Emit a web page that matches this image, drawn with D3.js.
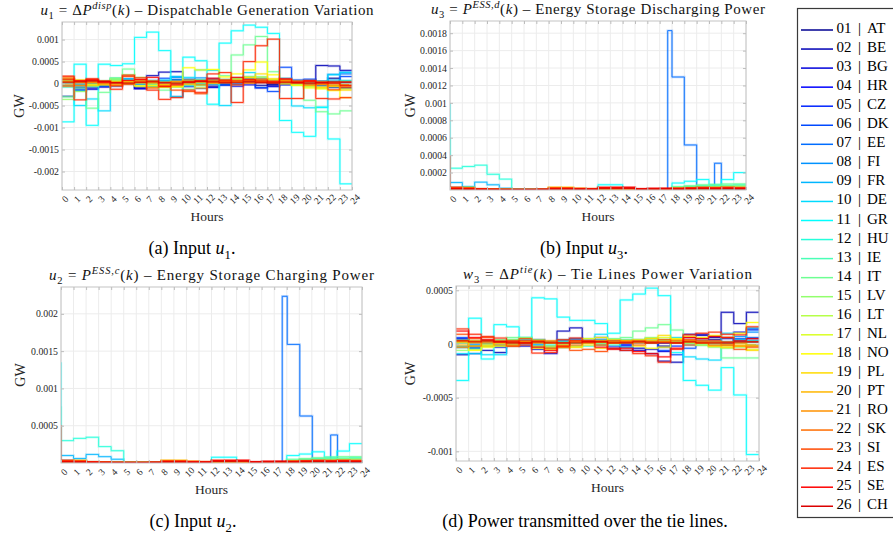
<!DOCTYPE html>
<html>
<head>
<meta charset="utf-8">
<script src="https://cdn.jsdelivr.net/npm/d3@7"></script>
<style>
  body { margin: 0; background: #fff; }
  svg { display: block; }
  text { font-family: "Liberation Serif", "Times New Roman", serif; white-space: pre; }
</style>
</head>
<body>
<svg id="fig" width="893" height="539"></svg>
<script>
// values below are in units of 1e-4 GW
const unit = 1e-4;

const countries = ["AT","BE","BG","HR","CZ","DK","EE","FI","FR","DE","GR","HU","IE","IT","LV","LT","NL","NO","PL","PT","RO","SK","SI","ES","SE","CH"];
const hourTicks = [0,1,2,3,4,5,6,7,8,9,10,11,12,13,14,15,16,17,18,19,20,21,22,23,24];

// (a) u1 = dispatchable generation variation, hours 0..23
const u1 = [
  [0.5,0.3,-0.4,-0.6,0.2,0.4,-0.8,-0.5,0.6,0.9,0.4,-0.3,-0.6,-0.2,0.3,0.5,-0.4,-0.2,0.7,0.6,0.3,0.5,1.2,-1.0],
  [-2.9,-1.5,-1.0,-0.5,0.4,0.6,-1.2,1.8,2.6,2.7,0.8,0.5,0.3,0.6,0.9,1.1,0.4,-0.5,0.8,0.2,0.6,4.1,4.0,3.0],
  [0.8,-0.9,-1.3,-0.8,-0.6,0.3,-1.1,-0.6,-0.4,-3.0,-0.7,-1.1,-0.9,-0.4,-0.6,-0.3,-1.0,-0.7,0.3,0.1,-0.2,-0.5,-0.9,-1.0],
  [0.3,0.2,0.1,0.4,0.2,-0.1,0.3,0.5,0.2,0.1,-0.3,0.2,0.4,0.1,-0.2,0.3,0.5,0.2,-0.3,-0.1,0.2,0.4,0.1,0.3],
  [-0.4,-0.6,-0.2,0.1,0.3,0.5,0.2,-0.3,0.4,0.6,0.3,0.1,-0.2,0.4,0.7,0.5,0.3,0.1,0.2,-0.3,-0.5,-0.2,0.3,0.6],
  [0.9,-1.2,0.6,0.3,0.9,1.0,0.4,0.6,1.2,1.4,0.9,0.7,1.1,0.8,0.6,0.9,-0.9,-1.8,3.7,0.8,1.0,0.4,-0.4,1.6],
  [0.2,-0.3,-0.1,0.2,0.5,0.3,-0.2,0.1,0.3,0.2,-0.1,0.4,0.2,-0.3,0.1,0.4,0.6,0.2,-0.2,0.3,0.1,-0.4,0.2,2.2],
  [0.6,-1.6,-0.7,-0.5,0.8,1.1,0.2,0.7,0.4,1.6,1.0,1.3,0.9,0.7,1.3,1.5,1.2,0.6,0.9,0.4,0.7,0.2,2.1,2.6],
  [-0.5,-0.2,0.3,-0.4,0.1,0.6,-0.3,0.2,0.5,0.8,0.4,0.9,0.6,0.3,0.5,0.8,0.7,0.4,0.1,-0.2,0.3,0.5,0.8,0.4],
  [1.0,-5.0,-3.5,-6.2,1.2,1.0,0.6,0.5,0.8,1.5,1.4,3.1,3.0,-5.0,1.2,2.5,1.5,0.5,1.2,-5.1,-5.5,-5.4,2.0,2.5],
  [-8.7,4.4,-9.5,4.4,4.1,4.5,10.5,11.7,7.5,-3.0,6.0,5.2,-4.7,9.2,12.0,13.3,12.8,11.4,-8.4,-11.1,-12.0,-5.4,-12.6,-22.8],
  [-0.8,-0.4,0.2,0.6,0.9,0.7,0.3,-0.2,0.4,0.2,-0.5,0.1,0.6,0.9,0.4,0.2,0.8,0.5,0.3,0.6,0.2,-0.1,0.4,0.7],
  [0.4,0.6,0.3,-0.2,0.1,0.5,0.8,0.4,-0.3,0.1,0.6,0.3,-0.1,0.2,0.5,0.7,0.4,0.9,0.6,0.2,-0.3,0.5,0.3,-0.2],
  [-3.0,-1.0,-5.6,-2.0,1.3,3.3,0.4,-0.6,-1.5,-0.8,-1.3,-0.5,0.7,1.8,6.5,8.8,10.7,2.7,0.3,-0.2,-3.8,-6.4,-6.9,-6.2],
  [-3.6,-1.8,-0.6,0.4,1.1,2.0,1.4,0.2,-0.9,-0.5,0.3,0.8,0.5,0.9,1.2,1.6,1.0,0.6,0.2,-0.4,-0.8,-1.1,-0.7,-0.3],
  [0.2,-0.5,-0.3,0.4,0.8,0.6,0.1,-0.4,-0.2,0.3,0.5,0.2,0.6,0.4,0.9,1.3,0.7,0.5,0.2,-0.3,-0.6,-0.2,0.1,-0.4],
  [0.9,0.4,-0.2,0.3,0.5,0.2,-0.6,-0.9,-0.4,-0.7,0.2,0.6,0.3,0.4,1.0,0.8,1.5,0.9,0.4,0.2,-0.5,-0.8,-0.6,-1.2],
  [1.2,0.8,0.3,-0.2,0.5,0.3,-0.5,-0.4,-0.8,-0.6,3.6,3.1,3.2,1.5,2.2,3.1,4.9,2.0,0.6,-0.4,-1.0,-1.2,-1.6,-3.2],
  [0.6,0.2,-0.4,0.1,-0.3,0.4,0.6,0.3,-0.5,-0.7,-0.2,-1.0,0.3,0.6,0.4,1.4,2.2,1.1,0.8,0.3,-0.4,-0.9,-0.5,-1.5],
  [-0.3,0.4,0.6,0.2,-0.1,0.3,0.5,0.1,-0.2,0.4,0.2,-0.3,0.1,0.5,0.3,0.7,0.4,0.2,-0.1,0.3,0.5,0.2,-0.3,-0.6],
  [0.5,0.7,0.2,-0.3,-0.5,0.1,0.4,0.6,0.3,0.5,0.8,0.4,0.2,0.6,0.4,0.2,0.5,0.3,0.6,0.4,0.1,-0.2,-0.5,-0.3],
  [-0.6,-0.4,0.4,0.6,0.2,-0.2,0.3,0.5,0.2,-0.1,0.3,0.6,0.4,0.2,-0.3,0.1,0.3,0.6,0.4,0.1,-0.3,-0.1,0.2,0.4],
  [1.5,0.6,0.9,0.2,-0.4,1.6,0.9,-1.0,-0.7,-1.5,-1.8,-2.3,0.8,0.5,0.7,0.6,1.0,0.3,0.9,0.6,0.7,0.4,-1.4,-0.8],
  [1.7,-3.7,1.1,0.3,-1.3,1.9,1.3,-1.5,-3.6,-3.2,-1.5,-2.0,2.2,2.5,-4.3,5.0,8.6,10.1,-3.4,-3.4,0.5,-3.4,-3.5,-3.2],
  [1.0,0.6,0.8,0.4,0.2,0.7,0.9,1.4,-0.6,-0.3,0.4,0.6,1.2,0.8,1.4,0.9,0.6,0.4,1.1,0.3,0.6,0.2,0.1,-0.4],
  [0.3,0.4,0.6,0.5,0.2,0.1,0.3,0.4,0.2,0.1,0.3,0.5,0.4,0.2,0.3,0.4,0.2,0.1,0.3,0.2,0.1,0.2,0.4,0.3]
];

// (b) u3 = storage discharging power; EE given as [hour, value] breakpoints
const u3 = [
  [.3,.25,.05,.04,.03,.03,.03,.03,.05,.05,.03,.03,.04,.04,.03,.03,.03,.03,.1,.1,.15,.1,.1,.1],
  [.2,.12,.06,.04,.02,.02,.02,.02,.03,.03,.02,.02,.03,.03,.02,.02,.02,.02,.06,.1,.12,.1,.15,.12],
  [.12,.1,.05,.03,.02,.02,.02,.02,.02,.02,.02,.02,.02,.02,.02,.02,.02,.02,.03,.04,.05,.05,.06,.05],
  [.06,.05,.05,.03,.02,.02,.02,.02,.02,.02,.02,.02,.02,.02,.02,.02,.02,.02,.02,.03,.03,.05,.05,.05],
  [.08,.06,.04,.03,.02,.02,.02,.02,.03,.03,.02,.02,.03,.03,.02,.02,.02,.02,.04,.05,.06,.06,.05,.06],
  [.15,.1,.08,.05,.03,.02,.02,.02,.03,.03,.02,.02,.03,.03,.02,.02,.02,.02,.08,.1,.1,.08,.1,.1],
  [[0,.03],[17.65,18.3],[18,12.97],[19,5.17],[20,.06],[21.45,3.07],[22,.06]],
  [.15,.12,.1,.06,.03,.02,.02,.02,.03,.03,.02,.02,.04,.04,.02,.02,.02,.02,.1,.12,.15,.12,.15,.15],
  [.86,.4,.9,.6,.2,.03,.02,.02,.03,.03,.02,.02,.04,.04,.03,.02,.02,.02,.08,.1,.1,.08,.1,.1],
  [.1,.06,.05,.05,.04,.03,.03,.03,.04,.04,.03,.03,.2,.2,.05,.03,.03,.03,.15,.2,.3,.25,.3,.3],
  [.1,.08,.06,.05,.04,.03,.03,.03,.04,.04,.03,.03,.6,.6,.08,.03,.03,.03,.8,1.0,1.2,.6,1.2,2.0],
  [2.5,2.7,2.85,1.8,1.25,.04,.03,.03,.05,.05,.03,.03,.1,.1,.05,.03,.03,.03,.3,.4,.5,.5,.55,.6],
  [.2,.15,.12,.08,.05,.03,.03,.03,.05,.05,.03,.03,.08,.08,.04,.03,.03,.03,.25,.35,.45,.45,.5,.5],
  [.15,.1,.1,.06,.04,.03,.03,.03,.05,.05,.03,.03,.06,.06,.04,.03,.03,.03,.4,.5,.6,.65,.7,.7],
  [.1,.08,.06,.05,.03,.02,.02,.02,.05,.05,.03,.03,.05,.05,.03,.02,.02,.02,.2,.3,.35,.4,.45,.45],
  [.1,.08,.06,.04,.03,.02,.02,.02,.1,.1,.05,.04,.05,.05,.03,.02,.02,.03,.15,.2,.25,.25,.3,.3],
  [.15,.2,.08,.05,.03,.02,.02,.02,.2,.2,.08,.06,.06,.06,.04,.03,.03,.04,.12,.15,.2,.2,.2,.25],
  [.2,.3,.1,.05,.03,.02,.02,.02,.3,.3,.15,.1,.1,.1,.05,.03,.03,.05,.1,.12,.15,.15,.2,.2],
  [.2,.25,.1,.05,.03,.02,.02,.03,.25,.25,.15,.1,.1,.1,.06,.04,.04,.05,.12,.15,.2,.2,.2,.2],
  [.25,.2,.1,.05,.03,.02,.02,.03,.2,.2,.12,.1,.12,.12,.08,.05,.05,.06,.15,.18,.2,.2,.25,.2],
  [.2,.18,.1,.05,.04,.03,.03,.04,.25,.22,.15,.12,.15,.15,.1,.06,.06,.08,.15,.2,.22,.2,.25,.22],
  [.25,.2,.12,.06,.04,.03,.03,.05,.2,.2,.15,.12,.2,.2,.15,.08,.08,.1,.2,.22,.25,.25,.28,.25],
  [.3,.22,.12,.08,.05,.04,.04,.05,.25,.25,.18,.15,.25,.25,.2,.1,.1,.12,.2,.25,.3,.28,.3,.28],
  [.2,.15,.1,.06,.05,.04,.04,.05,.15,.15,.12,.1,.3,.3,.25,.1,.12,.15,.15,.2,.25,.22,.25,.2],
  [.15,.12,.1,.08,.05,.05,.05,.08,.12,.12,.1,.1,.28,.3,.32,.15,.2,.2,.12,.18,.2,.18,.2,.18],
  [.1,.08,.06,.05,.04,.04,.04,.06,.1,.1,.08,.08,.15,.15,.2,.1,.12,.15,.1,.12,.15,.12,.15,.12]
];
// initial values at hour 0: [country number, value]
const u3Start = [[11, 10.0], [12, 6.0], [24, 4.0]];

// (c) u2 = storage charging power
const u2 = [
  [.35,.3,.06,.05,.04,.04,.04,.04,.06,.06,.04,.04,.05,.05,.04,.04,.04,.04,.12,.12,.18,.12,.12,.12],
  [.25,.15,.07,.05,.03,.03,.03,.03,.04,.04,.03,.03,.04,.04,.03,.03,.03,.03,.07,.12,.15,.12,.18,.15],
  [.15,.12,.06,.04,.03,.03,.03,.03,.03,.03,.03,.03,.03,.03,.03,.03,.03,.03,.04,.05,.06,.06,.07,.06],
  [.07,.06,.06,.04,.03,.03,.03,.03,.03,.03,.03,.03,.03,.03,.03,.03,.03,.03,.03,.04,.04,.06,.06,.06],
  [.1,.07,.05,.04,.03,.03,.03,.03,.04,.04,.03,.03,.04,.04,.03,.03,.03,.03,.05,.06,.07,.07,.06,.07],
  [.18,.12,.1,.06,.04,.03,.03,.03,.04,.04,.03,.03,.04,.04,.03,.03,.03,.03,.1,.12,.12,.1,.12,.12],
  [[0,.04],[17.64,22.35],[18.04,15.9],[19.04,6.3],[20.04,.07],[21.5,3.76],[22.05,.07]],
  [.18,.15,.12,.07,.04,.03,.03,.03,.04,.04,.03,.03,.05,.05,.03,.03,.03,.03,.12,.15,.18,.15,.18,.18],
  [1.0,.6,1.15,.85,.5,.04,.03,.03,.04,.04,.03,.03,.05,.05,.04,.03,.03,.03,.1,.12,.12,.1,.12,.12],
  [.12,.07,.06,.06,.05,.04,.04,.04,.05,.05,.04,.04,.25,.25,.06,.04,.04,.04,.18,.25,.35,.3,.35,.35],
  [.12,.1,.07,.06,.05,.04,.04,.04,.05,.05,.04,.04,.77,.77,.1,.04,.04,.04,1.0,1.2,1.5,.77,1.6,2.6],
  [3.0,3.3,3.45,2.2,1.65,.05,.04,.04,.06,.06,.04,.04,.12,.12,.06,.04,.04,.04,.35,.5,.6,.6,.65,.7],
  [.25,.18,.15,.1,.06,.04,.04,.04,.06,.06,.04,.04,.1,.1,.05,.04,.04,.04,.3,.4,.55,.55,.6,.6],
  [.18,.12,.12,.07,.05,.04,.04,.04,.06,.06,.04,.04,.07,.07,.05,.04,.04,.04,.5,.6,.7,.8,.85,.85],
  [.12,.1,.07,.06,.04,.03,.03,.03,.06,.06,.04,.04,.06,.06,.04,.03,.03,.03,.25,.35,.4,.5,.55,.55],
  [.12,.1,.07,.05,.04,.03,.03,.03,.12,.12,.06,.05,.06,.06,.04,.03,.03,.04,.18,.25,.3,.3,.35,.35],
  [.18,.25,.1,.06,.04,.03,.03,.03,.25,.25,.1,.07,.07,.07,.05,.04,.04,.05,.15,.18,.25,.25,.25,.3],
  [.25,.35,.12,.06,.04,.03,.03,.03,.35,.35,.18,.12,.12,.12,.06,.04,.04,.06,.12,.15,.18,.18,.25,.25],
  [.25,.3,.12,.06,.04,.03,.03,.04,.3,.3,.18,.12,.12,.12,.07,.05,.05,.06,.15,.18,.25,.25,.25,.25],
  [.3,.25,.12,.06,.04,.03,.03,.04,.25,.25,.15,.12,.15,.15,.1,.06,.06,.07,.18,.22,.25,.25,.3,.25],
  [.25,.22,.12,.06,.05,.04,.04,.05,.3,.27,.18,.15,.18,.18,.12,.07,.07,.1,.18,.25,.27,.25,.3,.27],
  [.3,.25,.15,.07,.05,.04,.04,.06,.25,.25,.18,.15,.25,.25,.18,.1,.1,.12,.25,.27,.3,.3,.33,.3],
  [.35,.27,.15,.1,.06,.05,.05,.06,.3,.3,.22,.18,.3,.3,.25,.12,.12,.15,.25,.3,.35,.33,.35,.33],
  [.25,.18,.12,.07,.06,.05,.05,.06,.18,.18,.15,.12,.35,.35,.3,.12,.15,.18,.18,.25,.3,.27,.3,.25],
  [.18,.15,.12,.1,.06,.06,.06,.1,.15,.15,.12,.12,.33,.35,.38,.18,.25,.25,.15,.22,.25,.22,.25,.22],
  [.12,.1,.07,.06,.05,.05,.05,.07,.12,.12,.1,.1,.18,.18,.25,.12,.15,.18,.12,.15,.18,.15,.18,.15]
];
const u2Start = [[11, 13.5], [12, 7.6], [24, 5.1]];

// (d) w3 = tie lines power variation
const w3 = [
  [0.3,-0.2,0.1,0.2,-0.1,0.1,0.3,0.2,-0.2,0.1,0.2,-0.1,0.1,0.3,0.2,0.1,-0.2,0.1,0.3,0.5,0.4,0.6,0.3,0.5],
  [-1.0,-0.9,-0.6,-0.8,-0.2,0.1,0.4,0.2,1.2,1.5,0.3,0.2,0.4,-0.6,-0.4,-0.9,-1.6,-1.7,0.9,0.8,0.6,2.95,1.9,2.95],
  [0.5,-0.4,-0.2,-0.3,0.1,-0.2,-0.5,-0.9,-0.3,0.5,0.2,0.6,-0.4,-0.3,-0.6,-0.5,-0.7,0.4,0.6,0.9,0.7,0.5,1.1,1.4],
  [0.2,0.1,-0.1,0.2,0.1,-0.1,0.2,0.1,-0.1,0.2,0.1,0.2,0.1,-0.1,0.1,0.2,0.1,0.2,-0.1,0.1,0.2,0.1,0.3,0.2],
  [-0.3,-0.2,0.2,0.1,-0.1,0.1,-0.2,-0.3,0.1,0.2,0.3,0.1,-0.2,-0.1,0.2,0.1,-0.3,-0.2,0.2,0.3,0.1,0.2,0.4,0.3],
  [0.6,-0.3,0.3,0.2,0.1,0.2,0.1,-0.2,0.3,0.4,0.2,0.3,0.2,0.1,0.3,0.2,-0.6,-1.0,-0.4,0.3,0.2,0.1,0.5,1.3],
  [0.1,-0.1,0.1,0.2,0.1,0.1,-0.1,0.1,0.2,0.1,0.1,0.2,0.1,0.1,0.2,0.1,0.1,0.2,0.1,0.2,0.1,0.1,0.2,0.6],
  [0.4,-0.4,-0.2,-0.1,0.3,0.4,0.1,0.2,0.2,0.5,0.3,0.4,0.3,0.2,0.4,0.5,0.3,0.2,0.3,0.1,0.2,0.1,0.7,1.1],
  [-0.2,-0.1,0.1,-0.2,0.1,0.2,-0.1,0.1,0.2,0.3,0.1,0.3,0.2,0.1,0.2,0.3,0.2,0.1,0.1,-0.1,0.1,0.2,0.3,0.2],
  [-0.9,-0.9,-1.0,-1.0,0.3,0.6,0.2,0.1,0.4,0.3,0.5,0.9,0.4,-0.3,0.3,0.5,0.4,0.6,-1.2,-1.4,-1.5,1.0,0.4,1.5],
  [-3.4,2.4,-1.4,1.8,1.6,0.55,4.3,4.2,2.5,2.2,2.2,1.9,1.0,4.1,4.65,5.2,4.5,-0.8,-3.4,-3.85,-4.3,-2.2,-4.75,-10.3],
  [-0.3,-0.2,0.1,0.3,0.4,0.3,0.1,-0.1,0.2,0.1,-0.2,0.1,0.2,0.4,0.2,0.1,0.3,0.2,0.1,0.2,0.1,-0.1,0.2,0.3],
  [0.2,0.3,0.1,-0.1,0.1,0.2,0.3,0.2,-0.1,0.1,0.2,0.1,-0.1,0.1,0.2,0.3,0.2,0.4,0.2,0.1,-0.1,0.2,0.1,-0.1],
  [-0.3,-0.2,0.3,0.4,0.6,0.5,-0.3,-0.4,-0.3,-0.2,0.2,0.3,0.5,0.6,1.2,1.5,1.8,1.3,0.2,0.3,0.1,-1.3,-1.3,-1.3],
  [-0.6,-0.5,-0.2,0.2,0.4,0.6,0.4,0.1,-0.3,-0.2,0.1,0.3,0.2,0.3,0.4,0.6,0.4,0.2,0.1,-0.1,-0.3,-0.4,-0.3,-0.1],
  [0.1,-0.2,-0.1,0.2,0.3,0.2,0.1,-0.2,-0.1,0.1,0.2,0.1,0.2,0.2,0.3,0.5,0.3,0.2,0.1,-0.1,-0.2,-0.1,0.1,-0.2],
  [0.3,0.2,-0.1,0.1,0.2,0.1,-0.2,-0.3,-0.2,-0.3,0.1,0.2,0.1,0.2,0.4,0.3,0.6,0.4,0.2,0.1,-0.2,-0.3,-0.2,-0.5],
  [0.2,-0.6,-0.3,-0.2,0.1,0.2,-0.4,-0.5,-0.3,0.3,0.5,0.6,0.4,0.3,-0.2,-0.4,-0.3,0.5,0.7,0.6,0.8,0.6,1.0,2.0],
  [0.3,0.1,-0.2,0.1,-0.1,0.2,0.3,0.1,-0.2,-0.3,-0.1,-0.4,0.1,0.3,0.2,0.5,0.8,0.4,0.3,0.1,-0.2,-0.3,-0.2,-0.6],
  [-0.1,0.2,0.3,0.1,-0.1,0.1,0.2,0.1,-0.1,0.2,0.1,-0.1,0.1,0.2,0.1,0.3,0.2,0.1,-0.1,0.1,0.2,0.1,-0.1,-0.2],
  [0.2,0.3,0.1,-0.1,-0.2,0.1,0.2,0.3,0.1,0.2,0.3,0.2,0.1,0.3,0.2,0.1,0.2,0.1,0.3,0.2,0.1,-0.1,-0.2,-0.1],
  [-0.3,-0.2,0.2,0.3,0.1,-0.1,0.1,0.2,0.1,-0.1,0.1,0.3,0.2,0.1,-0.1,0.1,0.2,0.3,0.2,0.1,-0.1,-0.1,0.1,0.2],
  [0.9,0.5,0.6,0.2,-0.2,0.5,0.3,-0.4,-0.3,-0.6,-0.5,-0.7,0.3,0.2,0.3,0.2,0.4,0.1,0.4,0.3,0.3,0.2,-0.5,-0.3],
  [1.4,0.9,0.7,0.55,0.3,0.3,-0.85,-0.8,0.4,0.55,0.3,0.2,-0.4,-0.6,-0.9,-1.1,-1.7,-0.5,0.85,1.0,1.1,0.9,0.85,1.6],
  [1.2,0.6,0.4,0.2,0.2,0.1,-0.3,-0.6,-0.2,0.3,0.2,-0.3,-0.5,-0.4,-0.7,-0.9,-1.2,-0.4,0.6,0.5,0.7,0.6,0.3,0.5],
  [0.3,0.2,0.3,0.2,0.1,0.1,0.2,0.1,0.1,0.1,0.2,0.2,0.1,0.1,0.2,0.1,0.1,0.1,0.2,0.1,0.1,0.1,0.2,0.2]
];

const ticksA = [0.001, 0.0005, 0, -0.0005, -0.001, -0.0015, -0.002];
const ticksB = [0.0002, 0.0004, 0.0006, 0.0008, 0.001, 0.0012, 0.0014, 0.0016, 0.0018];
const ticksC = [0.0005, 0.001, 0.0015, 0.002];
const ticksD = [0.0005, 0, -0.0005, -0.001];

// MATLAB jet colormap
function jet(m) {
  const n = Math.ceil(m / 4);
  const u = [...d3.range(1, n + 1).map(i => i / n), ...Array(n - 1).fill(1), ...d3.range(n, 0, -1).map(i => i / n)];
  const off = Math.ceil(n / 2) - (m % 4 === 1 ? 1 : 0);
  const g = u.map((_, i) => off + i + 1);
  const J = d3.range(m).map(() => [0, 0, 0]);
  g.filter(v => v + n <= m).forEach((v, i) => J[v + n - 1][0] = u[i]);
  g.filter(v => v <= m).forEach((v, i) => J[v - 1][1] = u[i]);
  const b = g.map(v => v - n).filter(v => v >= 1);
  b.forEach((v, i) => J[v - 1][2] = u[u.length - b.length + i]);
  return J.map(c => d3.rgb(c[0] * 255, c[1] * 255, c[2] * 255).formatHex());
}
const colors = jet(26);

const panels = [
  { data: u1, start: [], box: [62, 22, 352, 190], dom: [-0.00242, 0.0014], yTicks: ticksA, gwX: 19, titleW: 333,
    title: [["u","i"],["1","sub"],[" = Δ","r"],["P","i"],["disp","supi"],["(","r"],["k","i"],[") – Dispatchable Generation Variation","r"]],
    caption: [["(a) Input ","r"],["u","i"],["1","sub"],[".","r"]], capX: 192, capY: 254 },
  { data: u3, start: u3Start, box: [450, 21, 746, 190], dom: [0, 0.00194], yTicks: ticksB, gwX: 410, titleW: 334,
    title: [["u","i"],["3","sub"],[" = ","r"],["P","i"],["ESS,d","supi"],["(","r"],["k","i"],[") – Energy Storage Discharging Power","r"]],
    caption: [["(b) Input ","r"],["u","i"],["3","sub"],[".","r"]], capX: 584, capY: 254 },
  { data: u2, start: u2Start, box: [61, 287, 362, 463], dom: [0, 0.00236], yTicks: ticksC, gwX: 20, titleW: 325,
    title: [["u","i"],["2","sub"],[" = ","r"],["P","i"],["ESS,c","supi"],["(","r"],["k","i"],[") – Energy Storage Charging Power","r"]],
    caption: [["(c) Input ","r"],["u","i"],["2","sub"],[".","r"]], capX: 193, capY: 527 },
  { data: w3, start: [], box: [456, 286, 759, 461], dom: [-0.00109, 0.00054], yTicks: ticksD, gwX: 410, titleW: 289,
    title: [["w","i"],["3","sub"],[" = Δ","r"],["P","i"],["tie","supi"],["(","r"],["k","i"],[") – Tie Lines Power Variation","r"]],
    caption: [["(d) Power transmitted over the tie lines.","r"]], capX: 585, capY: 527 }
];

const svg = d3.select("#fig");

function richText(sel, parts, size) {
  let shift = 0;
  parts.forEach(([t, s]) => {
    const target = s === "sub" ? size * 0.3 : (s === "supi" ? -size * 0.4 : 0);
    const ts = sel.append("tspan").text(t).attr("dy", target - shift);
    shift = target;
    if (s === "sub" || s === "supi") ts.attr("font-size", size * 0.7);
    if (s === "i" || s === "supi") ts.attr("font-style", "italic");
  });
}

function stepPoints(s, start) {
  const pts = typeof s[0] === "number" ? s.map((v, i) => [i, v]) : s.map(p => p.slice());
  pts.push([24, pts[pts.length - 1][1]]);
  if (start != null) pts.unshift([0, start]);
  return pts;
}

panels.forEach((p, pi) => {
  const [x0, y0, x1, y1] = p.box;
  const x = d3.scaleLinear().domain([0, 24]).range([x0, x1]);
  const y = d3.scaleLinear().domain(p.dom).range([y1, y0]);
  const g = svg.append("g");

  // grid
  g.append("g").selectAll("line").data(hourTicks).join("line")
    .attr("x1", d => x(d)).attr("x2", d => x(d)).attr("y1", y0).attr("y2", y1)
    .attr("stroke", "#ececec");
  g.append("g").selectAll("line").data(p.yTicks).join("line")
    .attr("x1", x0).attr("x2", x1).attr("y1", d => y(d)).attr("y2", d => y(d))
    .attr("stroke", "#ececec");

  svg.append("clipPath").attr("id", "clip" + pi)
    .append("rect").attr("x", x0).attr("y", y0).attr("width", x1 - x0).attr("height", y1 - y0);

  const lines = g.append("g").attr("clip-path", `url(#clip${pi})`);
  const starts = new Map(p.start);
  const line = d3.line().curve(d3.curveStepAfter).x(d => x(d[0])).y(d => y(d[1] * unit));
  p.data.forEach((s, i) => {
    const d = line(stepPoints(s, starts.get(i + 1)));
    lines.append("path").attr("d", d).attr("fill", "none")
      .attr("stroke", colors[i]).attr("stroke-width", 2.4).attr("stroke-opacity", 0.25);
    lines.append("path").attr("d", d).attr("fill", "none")
      .attr("stroke", colors[i]).attr("stroke-width", 1).attr("stroke-opacity", 0.85);
  });

  // box
  g.append("rect").attr("x", x0).attr("y", y0).attr("width", x1 - x0).attr("height", y1 - y0)
    .attr("fill", "none").attr("stroke", "#c4c4c4");

  // axes (inward ticks on all sides)
  const gx = g.append("g").attr("transform", `translate(0,${y1})`)
    .call(d3.axisBottom(x).tickValues(hourTicks).tickSize(-3).tickPadding(0).tickFormat(d => d));
  gx.selectAll("text").attr("y", 0).attr("dy", "0.35em").attr("text-anchor", "middle")
    .attr("transform", "translate(2.5,9) rotate(-45)");
  const gy = g.append("g").attr("transform", `translate(${x0},0)`)
    .call(d3.axisLeft(y).tickValues(p.yTicks).tickSize(-3).tickPadding(3).tickFormat(d => String(d)));
  g.append("g").attr("transform", `translate(0,${y0})`)
    .call(d3.axisTop(x).tickValues(hourTicks).tickSize(-3).tickFormat(""));
  g.append("g").attr("transform", `translate(${x1},0)`)
    .call(d3.axisRight(y).tickValues(p.yTicks).tickSize(-3).tickFormat(""));
  g.selectAll(".domain").remove();
  g.selectAll(".tick line").attr("stroke", "#bdbdbd");
  g.selectAll(".tick text").attr("fill", "#262626");
  gx.attr("font-family", null).attr("font-size", 9.5);
  gy.attr("font-family", null).attr("font-size", 9.8);

  // labels
  g.append("text").attr("x", (x0 + x1) / 2).attr("y", y1 + 30.5).attr("text-anchor", "middle")
    .attr("font-size", 13.5).attr("fill", "#262626").text("Hours");
  g.append("text").attr("transform", `translate(${p.gwX},${(y0 + y1) / 2}) rotate(-90)`)
    .attr("dy", "0.35em").attr("text-anchor", "middle").attr("font-size", 14).attr("fill", "#262626").text("GW");
  richText(g.append("text").attr("x", (x0 + x1) / 2).attr("y", y0 - 7.5).attr("text-anchor", "middle")
    .attr("font-size", 15).attr("fill", "#111")
    .attr("textLength", p.titleW).attr("lengthAdjust", "spacing"), p.title, 15);
  richText(g.append("text").attr("x", p.capX).attr("y", p.capY).attr("text-anchor", "middle")
    .attr("font-size", 18).attr("fill", "#000"), p.caption, 18);
});

// legend
const leg = svg.append("g");
leg.append("rect").attr("x", 797.5).attr("y", 8.5).attr("width", 130).attr("height", 509)
  .attr("fill", "#fff").attr("stroke", "#3a3a3a").attr("stroke-width", 1.2);
const codeFmt = d3.format("02d");
countries.forEach((c, i) => {
  const ly = 30 + i * 19.05;
  leg.append("line").attr("x1", 801).attr("x2", 833).attr("y1", ly).attr("y2", ly)
    .attr("stroke", colors[i]).attr("stroke-width", 1.5);
  leg.append("text").attr("x", 836.5).attr("y", ly + 3).attr("font-size", 15).text(codeFmt(i + 1));
  leg.append("text").attr("x", 859.5).attr("y", ly + 3).attr("font-size", 15).attr("text-anchor", "middle").text("|");
  leg.append("text").attr("x", 867).attr("y", ly + 3).attr("font-size", 15).text(c);
});
</script>
</body>
</html>
